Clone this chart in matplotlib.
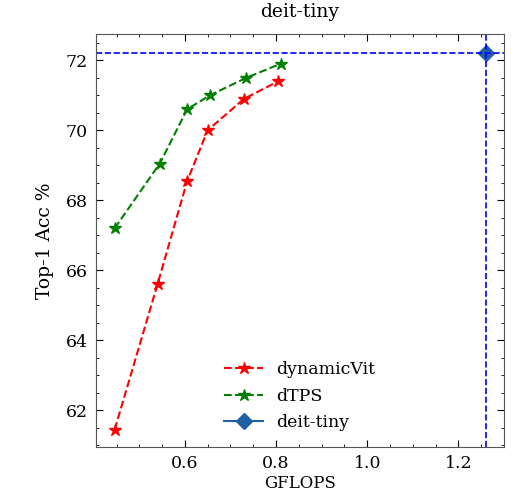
import matplotlib
matplotlib.use('Agg')
import matplotlib.pyplot as plt
from matplotlib.ticker import AutoMinorLocator

plt.rcParams['font.family'] = 'DejaVu Serif'

# dynamicVit
dyn_flops = [0.446, 0.54, 0.605, 0.65, 0.73, 0.805]
dyn_acc = [61.45, 65.6, 68.55, 70.0, 70.9, 71.4]
# dTPS
dtps_flops = [0.446, 0.545, 0.605, 0.655, 0.735, 0.81]
dtps_acc = [67.2, 69.05, 70.6, 71.0, 71.5, 71.9]
# deit-tiny baseline
base_flops = 1.26
base_acc = 72.2

fig = plt.figure(figsize=(5.16, 4.97), dpi=100)
ax = fig.add_axes([96 / 516, 50 / 497, 408 / 516, 413 / 497])

ax.plot(dyn_flops, dyn_acc, 'r--', marker='*', markersize=9, label='dynamicVit')
ax.plot(dtps_flops, dtps_acc, 'g--', marker='*', markersize=9, label='dTPS')
ax.plot([base_flops], [base_acc], color='#1f5fa6', marker='D', markersize=8, label='deit-tiny')
ax.axhline(base_acc, color='blue', linestyle='--', linewidth=1.2)
ax.axvline(base_flops, color='blue', linestyle='--', linewidth=1.2)

ax.set_xlim(0.405, 1.30)
ax.set_ylim(60.95, 72.75)
ax.set_xticks([0.6, 0.8, 1.0, 1.2])
ax.set_yticks([62, 64, 66, 68, 70, 72])
ax.xaxis.set_minor_locator(AutoMinorLocator(4))
ax.yaxis.set_minor_locator(AutoMinorLocator(4))
ax.tick_params(which='both', direction='in', top=True, right=True, labelsize=12.5)
ax.tick_params(which='major', length=5, pad=6)
ax.tick_params(which='minor', length=2.5)
for s in ax.spines.values():
    s.set_color('#555555')

ax.set_xlabel('GFLOPS', fontsize=12, labelpad=2)
ax.set_ylabel('Top-1 Acc %', fontsize=13.5, labelpad=8)
ax.set_title('deit-tiny', fontsize=13.5, pad=12)
ax.legend(loc='lower center', frameon=False, fontsize=12.5, labelspacing=0.55,
          handlelength=2.2, bbox_to_anchor=(0.5, 0.0))

fig.savefig('out.png', dpi=100)
